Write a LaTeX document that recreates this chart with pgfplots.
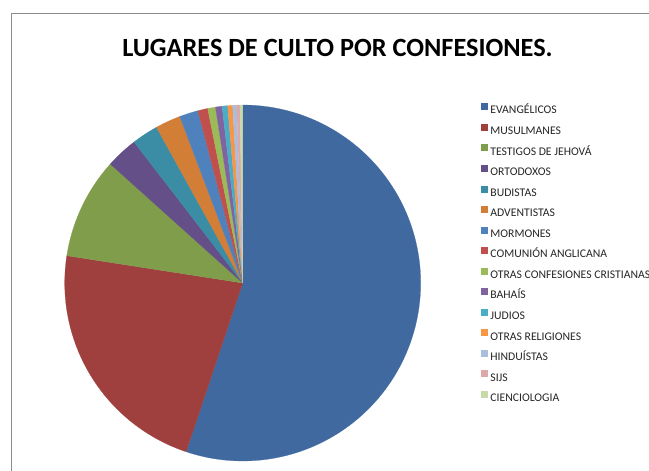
\documentclass[border=0pt]{standalone}
\usepackage{pgfplots}
\pgfplotsset{compat=1.18}
\usepackage{fontspec}
\setmainfont{Carlito}
\definecolor{cEV}{HTML}{4069A0}
\definecolor{cMU}{HTML}{A0403E}
\definecolor{cTJ}{HTML}{7F9D4B}
\definecolor{cOR}{HTML}{644F88}
\definecolor{cBU}{HTML}{3A8DA4}
\definecolor{cAD}{HTML}{D27E37}
\definecolor{cMO}{HTML}{4F81BD}
\definecolor{cCA}{HTML}{C0504D}
\definecolor{cOC}{HTML}{9BBB59}
\definecolor{cBA}{HTML}{8064A2}
\definecolor{cJU}{HTML}{4BACC6}
\definecolor{cRE}{HTML}{F79646}
\definecolor{cHI}{HTML}{A9BDDF}
\definecolor{cSI}{HTML}{DDA9A8}
\definecolor{cCI}{HTML}{C9DAA9}
\definecolor{frame}{HTML}{8C8C8C}
\def\cum{0}
% #1 = share in percent, #2 = colour, #3 = legend text
\newcommand\slice[3]{%
  \pgfmathsetmacro\sA{90-\cum*3.6}%
  \pgfmathsetmacro\cumnew{\cum+#1}%
  \pgfmathsetmacro\sB{90-\cumnew*3.6}%
  \pgfmathtruncatemacro\samp{max(3,(\sA-\sB)/1.5+2)}%
  \global\let\cum\cumnew
  \edef\tmp{\noexpand\addplot[fill=#2, draw=#2, line width=0.2pt, data cs=polar, domain=\sB:\sA, samples=\samp] {1} -- (axis cs:0,0) -- cycle;}%
  \tmp
  \addlegendentry{#3}%
}
\begin{document}
\begin{tikzpicture}[x=1pt,y=1pt]
\useasboundingbox (0,0) rectangle (649,471);
\fill[white] (0,0) rectangle (649,471);
\draw[frame, line width=1.3pt] (11.5,0) -- (11.5,457.5) -- (649,457.5);
\node[anchor=base, font=\fontsize{26.3}{31}\selectfont\bfseries] at (337.5,414.5) {LUGARES DE CULTO POR CONFESIONES.};
\begin{axis}[
  at={(242.7pt,188pt)}, anchor=origin,
  width=356pt, height=356pt, scale only axis,
  xmin=-1, xmax=1, ymin=-1, ymax=1,
  hide axis, clip=false,
  legend style={at={(1.1694,1.0052)}, anchor=north west, draw=none, fill=none,
    inner sep=0pt, row sep=9.9pt, column sep=3pt,
    font=\fontsize{11.7}{14}\selectfont, text=black!85,
    nodes={inner sep=0pt, text height=7.5pt, text depth=0pt}},
  legend cell align=left,
  legend image code/.code={\fill[#1] (0pt,0.8pt) rectangle (6pt,6.8pt);},
]
\slice{55.15}{cEV}{EVANGÉLICOS}
\slice{22.3}{cMU}{MUSULMANES}
\slice{9.2}{cTJ}{TESTIGOS DE JEHOVÁ}
\slice{2.9}{cOR}{ORTODOXOS}
\slice{2.4}{cBU}{BUDISTAS}
\slice{2.3}{cAD}{ADVENTISTAS}
\slice{1.7}{cMO}{MORMONES}
\slice{0.9}{cCA}{COMUNIÓN ANGLICANA}
\slice{0.7}{cOC}{OTRAS CONFESIONES CRISTIANAS}
\slice{0.6}{cBA}{BAHAÍS}
\slice{0.5}{cJU}{JUDIOS}
\slice{0.45}{cRE}{OTRAS RELIGIONES}
\slice{0.36}{cHI}{HINDUÍSTAS}
\slice{0.3}{cSI}{SIJS}
\slice{0.24}{cCI}{CIENCIOLOGIA}
\end{axis}
\end{tikzpicture}
\end{document}
